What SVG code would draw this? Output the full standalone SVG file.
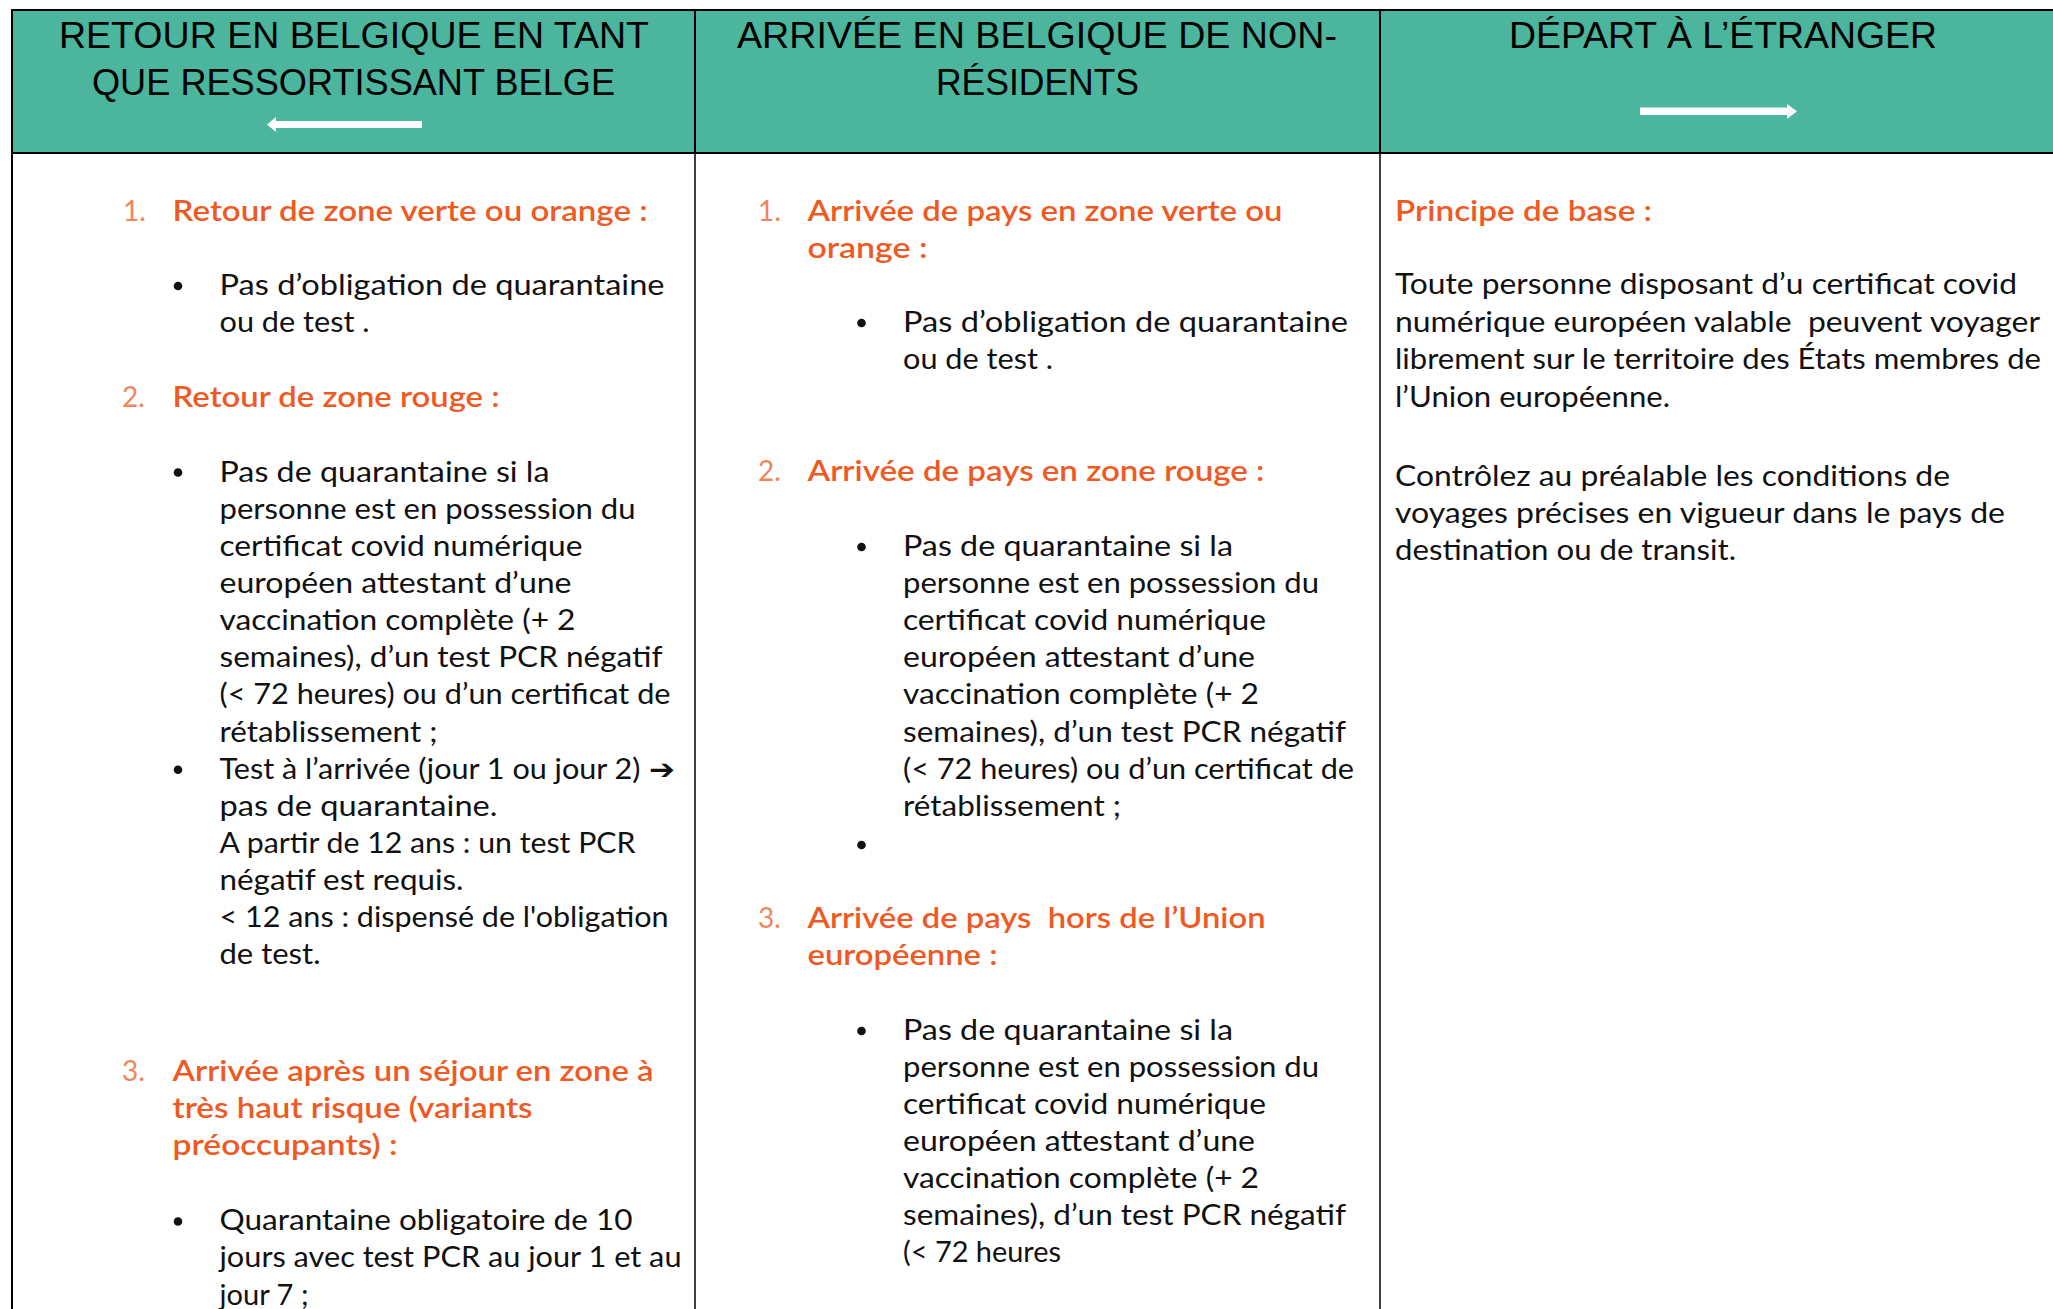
<svg xmlns="http://www.w3.org/2000/svg" width="2053" height="1309" viewBox="0 0 2053 1309">
<style>
.hd{font-family:"Liberation Sans",Arial,sans-serif;font-size:37px;fill:#000}
.t{font-family:Lato,"Noto Sans",sans-serif;font-size:28px;fill:#111}
.h{font-family:Lato,"Noto Sans",sans-serif;font-size:28px;fill:#EF5A24;font-weight:600}
.n{font-family:Lato,"Noto Sans",sans-serif;font-size:28px;fill:#F0845A}
.b{fill:#111}
.ar{fill:#fff}
.ln{stroke:#000;stroke-width:2;fill:none}
.lt{stroke:#000;stroke-width:1.5;fill:none}
</style>
<rect x="0" y="0" width="2053" height="1309" fill="#fff"/>
<g id="header-band">
<rect x="12" y="10" width="2041" height="143" fill="#4BB59D"/>
</g>
<g id="grid">
<line class="ln" x1="11" y1="10" x2="2053" y2="10"/>
<line class="ln" x1="11" y1="153" x2="2053" y2="153"/>
<line class="ln" x1="12" y1="9" x2="12" y2="1309"/>
<line class="ln" x1="695" y1="9" x2="695" y2="153"/>
<line class="ln" x1="1380" y1="9" x2="1380" y2="153"/>
<line class="lt" x1="695" y1="153" x2="695" y2="1309"/>
<line class="lt" x1="1380" y1="153" x2="1380" y2="1309"/>
</g>
<g id="connectors"></g>

<g id="col1-header">
<text class="hd" x="59" y="47.5" textLength="590" lengthAdjust="spacingAndGlyphs">RETOUR EN BELGIQUE EN TANT</text>
<text class="hd" x="92" y="95.3" textLength="523" lengthAdjust="spacingAndGlyphs">QUE RESSORTISSANT BELGE</text>
<polygon class="ar" points="267,124.5 276,117 276,121 422,121 422,128 276,128 276,132"/>
</g>
<g id="col2-header">
<text class="hd" x="737" y="47.5" textLength="600" lengthAdjust="spacingAndGlyphs">ARRIVÉE EN BELGIQUE DE NON-</text>
<text class="hd" x="936" y="95.3" textLength="203" lengthAdjust="spacingAndGlyphs">RÉSIDENTS</text>
</g>
<g id="col3-header">
<text class="hd" x="1509" y="47.5" textLength="428" lengthAdjust="spacingAndGlyphs">DÉPART À L’ÉTRANGER</text>
<polygon class="ar" points="1640,107.5 1787,107.5 1787,104 1797,111.3 1787,119 1787,115 1640,115"/>
</g>

<g id="col1-body" lengthAdjust="spacingAndGlyphs">
<text class="n" x="123" y="221">1.</text>
<text class="h" x="172.6" y="221" textLength="475" lengthAdjust="spacingAndGlyphs">Retour de zone verte ou orange :</text>
<circle class="b" cx="178" cy="286" r="4.3"/>
<text class="t" x="219.5" y="294.5" textLength="445" lengthAdjust="spacingAndGlyphs">Pas d’obligation de quarantaine</text>
<text class="t" x="219.5" y="331.8" textLength="150" lengthAdjust="spacingAndGlyphs">ou de test .</text>
<text class="n" x="122" y="406.8">2.</text>
<text class="h" x="172.6" y="406.8" textLength="327" lengthAdjust="spacingAndGlyphs">Retour de zone rouge :</text>
<circle class="b" cx="178" cy="472.5" r="4.3"/>
<text class="t" x="219.5" y="481.5" textLength="330" lengthAdjust="spacingAndGlyphs">Pas de quarantaine si la</text>
<text class="t" x="219.5" y="518.65" textLength="416" lengthAdjust="spacingAndGlyphs">personne est en possession du</text>
<text class="t" x="219.5" y="555.8" textLength="363" lengthAdjust="spacingAndGlyphs">certificat covid numérique</text>
<text class="t" x="219.5" y="592.95" textLength="352" lengthAdjust="spacingAndGlyphs">européen attestant d’une</text>
<text class="t" x="219.5" y="630.1" textLength="356" lengthAdjust="spacingAndGlyphs">vaccination complète (+ 2</text>
<text class="t" x="219.5" y="667.25" textLength="443" lengthAdjust="spacingAndGlyphs">semaines), d’un test PCR négatif</text>
<text class="t" x="219.5" y="704.4" textLength="451" lengthAdjust="spacingAndGlyphs">(&lt; 72 heures) ou d’un certificat de</text>
<text class="t" x="219.5" y="741.55" textLength="218" lengthAdjust="spacingAndGlyphs">rétablissement ;</text>
<circle class="b" cx="178" cy="769.7" r="4.3"/>
<text class="t" x="219.5" y="778.7" textLength="421" lengthAdjust="spacingAndGlyphs">Test à l’arrivée (jour 1 ou jour 2)</text>
<text x="649" y="778.7" font-family="DejaVu Sans,sans-serif" font-size="28" font-weight="bold" fill="#111" textLength="26" lengthAdjust="spacingAndGlyphs">➔</text>
<text class="t" x="219.5" y="815.85" textLength="278" lengthAdjust="spacingAndGlyphs">pas de quarantaine.</text>
<text class="t" x="219.5" y="853" textLength="416" lengthAdjust="spacingAndGlyphs">A partir de 12 ans : un test PCR</text>
<text class="t" x="219.5" y="890.15" textLength="244" lengthAdjust="spacingAndGlyphs">négatif est requis.</text>
<text class="t" x="219.5" y="927.3" textLength="449" lengthAdjust="spacingAndGlyphs">&lt; 12 ans : dispensé de l'obligation</text>
<text class="t" x="219.5" y="964.45" textLength="101" lengthAdjust="spacingAndGlyphs">de test.</text>
<text class="n" x="122" y="1081">3.</text>
<text class="h" x="172.6" y="1081" textLength="481" lengthAdjust="spacingAndGlyphs">Arrivée après un séjour en zone à</text>
<text class="h" x="172.6" y="1118.2" textLength="360" lengthAdjust="spacingAndGlyphs">très haut risque (variants</text>
<text class="h" x="172.6" y="1155.3" textLength="225" lengthAdjust="spacingAndGlyphs">préoccupants) :</text>
<circle class="b" cx="178" cy="1221.5" r="4.3"/>
<text class="t" x="219.5" y="1230.3" textLength="413" lengthAdjust="spacingAndGlyphs">Quarantaine obligatoire de 10</text>
<text class="t" x="219.5" y="1267.4" textLength="462" lengthAdjust="spacingAndGlyphs">jours avec test PCR au jour 1 et au</text>
<text class="t" x="219.5" y="1304.5" textLength="89" lengthAdjust="spacingAndGlyphs">jour 7 ;</text>
</g>

<g id="col2-body">
<text class="n" x="758" y="220.6">1.</text>
<text class="h" x="807.5" y="220.6" textLength="475" lengthAdjust="spacingAndGlyphs">Arrivée de pays en zone verte ou</text>
<text class="h" x="807.5" y="257.8" textLength="120" lengthAdjust="spacingAndGlyphs">orange :</text>
<circle class="b" cx="861.5" cy="323" r="4.3"/>
<text class="t" x="903" y="331.9" textLength="445" lengthAdjust="spacingAndGlyphs">Pas d’obligation de quarantaine</text>
<text class="t" x="903" y="369" textLength="150" lengthAdjust="spacingAndGlyphs">ou de test .</text>
<text class="n" x="758" y="481.1">2.</text>
<text class="h" x="807.5" y="481.1" textLength="457" lengthAdjust="spacingAndGlyphs">Arrivée de pays en zone rouge :</text>
<circle class="b" cx="861.5" cy="547" r="4.3"/>
<text class="t" x="903" y="555.8" textLength="330" lengthAdjust="spacingAndGlyphs">Pas de quarantaine si la</text>
<text class="t" x="903" y="592.95" textLength="416" lengthAdjust="spacingAndGlyphs">personne est en possession du</text>
<text class="t" x="903" y="630.1" textLength="363" lengthAdjust="spacingAndGlyphs">certificat covid numérique</text>
<text class="t" x="903" y="667.25" textLength="352" lengthAdjust="spacingAndGlyphs">européen attestant d’une</text>
<text class="t" x="903" y="704.4" textLength="356" lengthAdjust="spacingAndGlyphs">vaccination complète (+ 2</text>
<text class="t" x="903" y="741.55" textLength="443" lengthAdjust="spacingAndGlyphs">semaines), d’un test PCR négatif</text>
<text class="t" x="903" y="778.7" textLength="451" lengthAdjust="spacingAndGlyphs">(&lt; 72 heures) ou d’un certificat de</text>
<text class="t" x="903" y="815.85" textLength="218" lengthAdjust="spacingAndGlyphs">rétablissement ;</text>
<circle class="b" cx="861.5" cy="845" r="4.3"/>
<text class="n" x="758" y="927.6">3.</text>
<text class="h" x="807.5" y="927.6" textLength="458" lengthAdjust="spacingAndGlyphs" xml:space="preserve">Arrivée de pays  hors de l’Union</text>
<text class="h" x="807.5" y="964.5" textLength="190" lengthAdjust="spacingAndGlyphs">européenne :</text>
<circle class="b" cx="861.5" cy="1031" r="4.3"/>
<text class="t" x="903" y="1040" textLength="330" lengthAdjust="spacingAndGlyphs">Pas de quarantaine si la</text>
<text class="t" x="903" y="1077.05" textLength="416" lengthAdjust="spacingAndGlyphs">personne est en possession du</text>
<text class="t" x="903" y="1114.1" textLength="363" lengthAdjust="spacingAndGlyphs">certificat covid numérique</text>
<text class="t" x="903" y="1151.15" textLength="352" lengthAdjust="spacingAndGlyphs">européen attestant d’une</text>
<text class="t" x="903" y="1188.2" textLength="356" lengthAdjust="spacingAndGlyphs">vaccination complète (+ 2</text>
<text class="t" x="903" y="1225.25" textLength="443" lengthAdjust="spacingAndGlyphs">semaines), d’un test PCR négatif</text>
<text class="t" x="903" y="1262.3" textLength="158" lengthAdjust="spacingAndGlyphs">(&lt; 72 heures</text>
</g>

<g id="col3-body">
<text class="h" x="1395" y="221" textLength="257" lengthAdjust="spacingAndGlyphs">Principe de base :</text>
<text class="t" x="1395" y="294" textLength="622" lengthAdjust="spacingAndGlyphs">Toute personne disposant d’u certificat covid</text>
<text class="t" x="1395" y="331.5" textLength="645" lengthAdjust="spacingAndGlyphs" xml:space="preserve">numérique européen valable  peuvent voyager</text>
<text class="t" x="1395" y="369" textLength="646" lengthAdjust="spacingAndGlyphs">librement sur le territoire des États membres de</text>
<text class="t" x="1395" y="407" textLength="275" lengthAdjust="spacingAndGlyphs">l’Union européenne.</text>
<text class="t" x="1395" y="485.5" textLength="555" lengthAdjust="spacingAndGlyphs">Contrôlez au préalable les conditions de</text>
<text class="t" x="1395" y="522.8" textLength="610" lengthAdjust="spacingAndGlyphs">voyages précises en vigueur dans le pays de</text>
<text class="t" x="1395" y="560" textLength="341" lengthAdjust="spacingAndGlyphs">destination ou de transit.</text>
</g>
</svg>
